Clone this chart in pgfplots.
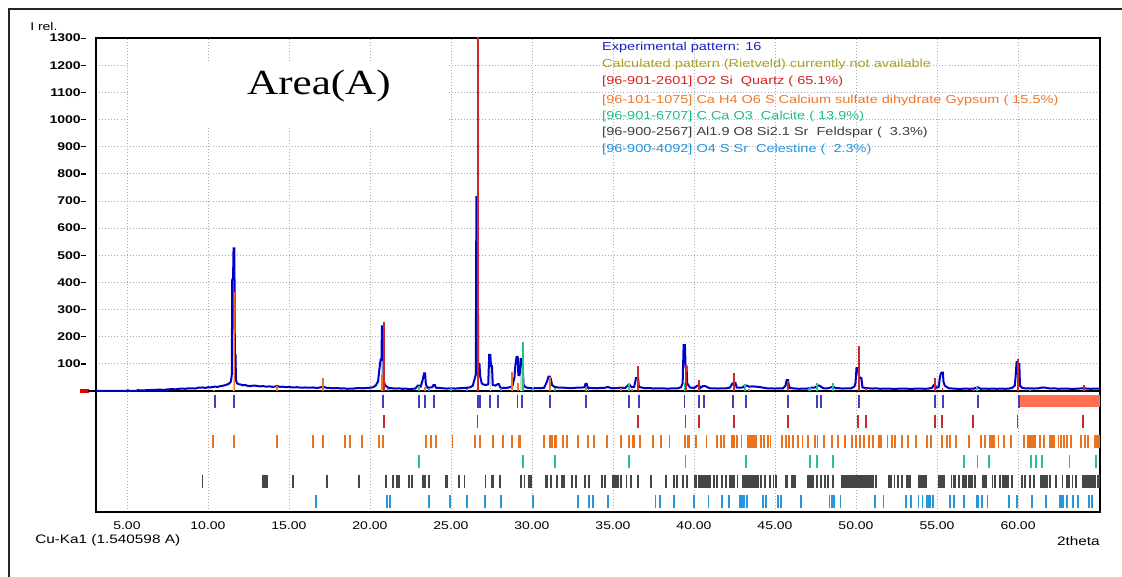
\documentclass[border=0pt]{standalone}
\usepackage{fontspec}
\setmainfont[FakeStretch=1.25]{Liberation Sans}
\newfontfamily\areafont[FakeStretch=1.22]{Liberation Serif}
\usepackage{pgfplots}
\pgfplotsset{compat=1.18}
\definecolor{expblue}{RGB}{0,0,200}
\definecolor{rowblue}{RGB}{64,64,192}
\definecolor{qred}{RGB}{205,40,40}
\definecolor{gorange}{RGB}{235,115,30}
\definecolor{cgreen}{RGB}{40,195,130}
\definecolor{fgray}{RGB}{70,70,70}
\definecolor{cblue}{RGB}{40,150,220}
\definecolor{salmonbox}{RGB}{255,112,80}
\definecolor{calcolive}{RGB}{168,160,40}
\definecolor{legblue}{RGB}{30,30,200}
\definecolor{legred}{RGB}{220,30,30}
\definecolor{legorange}{RGB}{240,120,40}
\definecolor{leggreen}{RGB}{30,190,130}
\definecolor{leggray}{RGB}{60,60,60}
\definecolor{legcyan}{RGB}{30,150,225}
\definecolor{gridgray}{RGB}{170,170,170}
\begin{document}
\begin{tikzpicture}
\useasboundingbox (-72pt,-48.75pt) rectangle (769.5pt,384pt);
\begin{axis}[
  at={(0,0)}, anchor=south west,
  scale only axis, width=753pt, height=355.5pt,
  xmin=3.09, xmax=65.06, ymin=-445.6, ymax=1300,
  axis line style={line width=1.1pt, black},
  xtick={5,10,...,60}, ytick={100,200,...,1300},
  major tick length=0pt,
  xmajorgrids, ymajorgrids,
  grid style={gridgray, line width=0.6pt, dash pattern=on 0.6pt off 1.7pt},
  /pgf/number format/assume math mode=true,
  xticklabel={\pgfmathprintnumber[fixed,fixed zerofill,precision=2]{\tick}},
  yticklabel={\textbf{\pgfmathprintnumber[fixed,precision=0,1000 sep={}]{\tick}}\rule[2.3pt]{3.75pt}{0.9pt}},
  xticklabel style={font=\fontsize{8.4}{10}\selectfont, anchor=north, inner sep=0pt, yshift=-7.2pt},
  yticklabel style={font=\fontsize{8.4}{10}\selectfont, anchor=east, inner sep=0pt, xshift=-7.5pt},
]
% white box behind the area title
\fill[white] (axis cs:5.1,976) rectangle (axis cs:24.9,1208);
\node[font=\areafont\fontsize{26.5}{30}\selectfont] at (axis cs:16.85,1123) {Area(A)};
% zero line
\draw[black, line width=1.4pt] (axis cs:3.09,0) -- (axis cs:65.06,0);
% light gray phase sticks
\addplot[ycomb, no markers, gray!35, line width=1.4pt] coordinates {(11.60,470) (20.74,190) (27.44,135) (29.30,110)};
% experimental pattern
\addplot[expblue, line width=1.5pt, no markers, line join=miter, miter limit=2] coordinates {
(3.10,0) (4.00,0) (5.00,0) (5.06,3) (5.12,0) (5.60,0) (5.66,3) (6.00,2) (6.20,3) (6.60,4) (7.00,5)
(7.30,4) (7.50,6) (7.80,7) (8.00,6) (8.20,8) (8.40,9) (8.60,8) (8.80,10) (9.00,10) (9.20,9) (9.40,12)
(9.70,13) (9.85,11) (10.00,14) (10.15,13) (10.30,15) (10.45,16) (10.60,15) (10.75,18) (10.90,19) (11.10,22)
(11.30,27) (11.42,35) (11.47,60) (11.50,411) (11.55,411) (11.58,525) (11.63,525) (11.66,133) (11.70,133) (11.73,40)
(11.80,28) (11.90,25) (12.00,24) (12.15,21) (12.30,22) (12.45,19) (12.60,18) (12.80,20) (13.00,19) (13.20,17)
(13.40,18) (13.60,16) (13.80,17) (14.00,15) (14.28,18) (14.45,15) (14.60,16) (14.80,14) (15.00,15) (15.25,13)
(15.50,14) (15.75,12) (16.00,13) (16.25,12) (16.50,13) (16.75,11) (17.00,14) (17.12,16) (17.30,12) (17.55,11)
(17.80,10) (18.00,11) (18.20,9) (18.40,10) (18.60,8) (18.80,9) (19.00,9) (19.25,11) (19.50,10) (19.75,11)
(20.00,12) (20.20,14) (20.35,20) (20.50,35) (20.58,80) (20.66,115) (20.71,115) (20.74,238) (20.81,238) (20.85,40)
(20.92,22) (21.00,18) (21.10,13) (21.20,11) (21.40,10) (21.60,9) (21.80,10) (22.00,8) (22.20,9) (22.40,7)
(22.60,8) (22.80,9) (22.95,20) (23.05,20) (23.12,14) (23.25,40) (23.34,65) (23.40,65) (23.45,25) (23.55,12)
(23.70,13) (23.85,14) (23.92,22) (24.00,22) (24.08,12) (24.30,11) (24.50,10) (24.75,9) (25.00,10) (25.25,9)
(25.50,10) (25.75,11) (26.00,12) (26.20,14) (26.35,20) (26.45,43) (26.53,60) (26.57,714) (26.64,714) (26.68,100)
(26.76,100) (26.80,55) (26.90,28) (27.00,24) (27.15,22) (27.30,25) (27.36,133) (27.43,133) (27.47,92) (27.53,92)
(27.58,22) (27.75,20) (27.88,25) (27.96,25) (28.05,12) (28.25,11) (28.50,12) (28.70,15) (28.80,20) (28.92,50)
(28.97,92) (29.05,126) (29.12,126) (29.16,57) (29.24,60) (29.30,117) (29.36,117) (29.42,100) (29.48,22) (29.60,14)
(29.70,12) (29.85,11) (30.00,10) (30.20,11) (30.50,10) (30.75,12) (30.92,34) (31.02,53) (31.10,53) (31.16,45)
(31.24,22) (31.40,15) (31.60,13) (31.80,12) (32.00,12) (32.25,11) (32.50,11) (32.75,12) (33.00,12) (33.25,14)
(33.30,26) (33.38,26) (33.45,12) (33.70,11) (34.00,10) (34.25,11) (34.50,12) (34.70,15) (34.85,11) (35.00,10)
(35.25,11) (35.50,12) (35.75,11) (35.95,22) (36.03,22) (36.15,14) (36.30,14) (36.42,47) (36.55,47) (36.60,15)
(36.75,13) (37.00,10) (37.25,11) (37.50,9) (37.75,10) (38.00,10) (38.25,9) (38.50,9) (38.75,10) (39.00,10)
(39.20,14) (39.30,28) (39.36,169) (39.44,169) (39.48,90) (39.54,90) (39.58,28) (39.75,13) (39.90,12) (40.00,11)
(40.22,20) (40.32,20) (40.40,12) (40.55,18) (40.70,18) (40.85,13) (41.00,10) (41.25,10) (41.50,9) (41.75,10)
(42.00,10) (42.20,12) (42.30,20) (42.38,28) (42.50,30) (42.56,30) (42.64,12) (42.80,12) (43.00,13) (43.15,20)
(43.25,20) (43.40,16) (43.60,17) (43.80,16) (44.00,15) (44.10,14) (44.30,12) (44.50,10) (44.75,10) (45.00,9)
(45.25,10) (45.50,10) (45.65,20) (45.72,40) (45.80,40) (45.88,12) (46.10,10) (46.30,9) (46.50,8) (46.75,9)
(47.00,9) (47.20,12) (47.40,12) (47.50,14) (47.60,20) (47.75,20) (47.85,15) (48.00,10) (48.25,10) (48.50,14)
(48.60,15) (48.75,11) (49.00,10) (49.20,9) (49.45,10) (49.70,10) (49.90,16) (49.97,30) (50.03,84) (50.12,84)
(50.17,60) (50.25,47) (50.33,47) (50.40,13) (50.60,11) (50.80,10) (51.00,9) (51.25,10) (51.50,8) (51.75,9)
(52.00,9) (52.25,8) (52.50,8) (52.75,9) (53.00,9) (53.25,8) (53.50,8) (53.75,9) (54.00,9) (54.25,8)
(54.50,9) (54.70,12) (54.78,20) (54.86,25) (54.95,12) (55.10,14) (55.18,50) (55.24,65) (55.30,68) (55.36,68)
(55.40,34) (55.48,20) (55.58,15) (55.75,10) (56.00,9) (56.25,8) (56.50,8) (56.75,9) (57.00,8) (57.25,9)
(57.48,13) (57.56,13) (57.70,8) (57.95,9) (58.20,8) (58.45,9) (58.70,8) (58.95,9) (59.20,8) (59.45,9)
(59.65,12) (59.80,20) (59.86,60) (59.91,106) (59.98,106) (60.02,100) (60.08,100) (60.12,20) (60.25,12) (60.40,10)
(60.70,10) (61.00,9) (61.25,10) (61.50,13) (61.70,12) (62.00,9) (62.25,10) (62.50,8) (62.75,9) (63.00,9)
(63.25,8) (63.50,8) (63.75,9) (64.00,10) (64.25,9) (64.50,8) (64.75,9) (65.00,9) (65.06,9)
};
% phase intensity sticks
\addplot[ycomb, no markers, gorange, line width=1.4pt] coordinates {(10.35,5) (11.64,366) (14.28,20) (17.12,48) (20.72,60) (23.42,15) (28.76,70) (29.13,30) (31.12,50) (33.35,15) (35.50,12) (36.20,8) (43.40,8)};
\addplot[ycomb, no markers, cgreen, line width=1.4pt] coordinates {(23.04,20) (29.44,182) (31.44,10) (35.99,30) (39.45,30) (43.17,25) (47.17,15) (47.57,28) (48.58,30) (57.48,15) (60.75,8)};
\addplot[ycomb, no markers, cblue, line width=1.2pt] coordinates {(21.10,6) (23.64,8) (25.00,10) (26.00,8) (28.10,12) (30.06,14) (33.50,6) (47.10,10)};
\addplot[ycomb, no markers, qred, line width=1.4pt] coordinates {(20.88,255) (26.65,1400) (36.56,92) (39.49,95) (40.30,40) (42.46,65) (45.80,38) (50.16,166) (50.64,10) (54.89,47) (55.34,12) (57.26,6) (59.98,117) (64.05,22)};
% row 1: experimental peak positions
\fill[salmonbox] (axis cs:60.12,-15) rectangle (axis cs:65.06,-58);
\addplot[only marks, mark=|, mark size=4.75pt, mark options={line width=1.3pt}, color=rowblue] table[row sep=\\, x index=0, y expr=-38] {
x\\ 10.43\\ 11.62\\ 20.80\\ 23.02\\ 23.40\\ 23.97\\ 26.65\\ 26.79\\ 27.41\\ 27.92\\ 29.11\\ 29.38\\ 31.10\\ 33.33\\ 35.99\\ 36.60\\ 39.42\\ 40.29\\ 40.64\\ 42.43\\ 43.19\\ 45.78\\ 47.59\\ 47.84\\ 50.17\\ 54.88\\ 55.39\\ 57.53\\ 60.04\\
};
% row 2: quartz
\addplot[only marks, mark=|, mark size=4.75pt, mark options={line width=1.3pt}, color=qred] table[row sep=\\, x index=0, y expr=-111.7] {
x\\ 20.86\\ 26.64\\ 36.54\\ 39.47\\ 40.29\\ 42.45\\ 45.79\\ 50.14\\ 50.62\\ 54.87\\ 55.33\\ 57.24\\ 59.96\\ 64.03\\
};
% row 3: gypsum
\addplot[only marks, mark=|, mark size=4.75pt, mark options={line width=1.3pt}, color=gorange] table[row sep=\\, x index=0, y expr=-185.4] {
x\\ 10.33\\ 11.62\\ 14.28\\ 16.50\\ 17.12\\ 18.48\\ 18.77\\ 19.50\\ 20.56\\ 20.80\\ 23.48\\ 23.75\\ 24.07\\ 25.10\\ 26.48\\ 26.81\\ 27.59\\ 28.19\\ 28.78\\ 29.16\\ 29.26\\ 30.76\\ 31.13\\ 31.22\\ 31.40\\ 31.48\\ 31.93\\ 32.14\\ 32.84\\ 33.44\\ 33.85\\ 34.65\\ 35.51\\ 36.01\\ 36.21\\ 36.28\\ 36.67\\ 37.45\\ 37.96\\ 38.48\\ 39.44\\ 39.65\\ 39.72\\ 40.12\\ 40.78\\ 41.40\\ 41.65\\ 41.83\\ 42.33\\ 42.49\\ 42.67\\ 42.94\\ 43.35\\ 43.45\\ 43.55\\ 43.65\\ 43.75\\ 43.81\\ 44.15\\ 44.32\\ 44.55\\ 44.73\\ 45.43\\ 45.68\\ 45.88\\ 46.13\\ 46.44\\ 46.69\\ 47.02\\ 47.49\\ 47.63\\ 48.02\\ 48.54\\ 48.89\\ 49.34\\ 49.73\\ 49.98\\ 50.25\\ 50.51\\ 50.80\\ 51.07\\ 51.42\\ 51.48\\ 51.54\\ 51.95\\ 52.20\\ 52.41\\ 52.86\\ 53.19\\ 53.70\\ 54.40\\ 54.63\\ 55.31\\ 55.60\\ 55.80\\ 56.15\\ 56.97\\ 57.70\\ 57.96\\ 58.27\\ 58.36\\ 58.45\\ 58.54\\ 58.80\\ 59.13\\ 59.58\\ 60.39\\ 60.62\\ 60.72\\ 60.82\\ 60.92\\ 61.05\\ 61.36\\ 61.60\\ 61.96\\ 62.05\\ 62.15\\ 62.24\\ 62.49\\ 62.65\\ 62.82\\ 63.04\\ 63.25\\ 63.89\\ 64.14\\ 64.34\\ 64.75\\ 64.85\\ 64.95\\ 65.01\\
};
% row 4: calcite
\addplot[only marks, mark=|, mark size=4.75pt, mark options={line width=1.3pt}, color=cgreen] table[row sep=\\, x index=0, y expr=-259] {
x\\ 23.02\\ 29.44\\ 31.44\\ 35.99\\ 39.47\\ 43.19\\ 47.17\\ 47.57\\ 48.58\\ 56.65\\ 57.50\\ 58.20\\ 60.78\\ 61.13\\ 61.46\\ 63.17\\ 64.82\\
};
% row 5: feldspar
\addplot[only marks, mark=|, mark size=4.75pt, mark options={line width=1.3pt}, color=fgray] table[row sep=\\, x index=0, y expr=-332.6] {
x\\ 9.67\\ 13.42\\ 13.50\\ 13.58\\ 13.68\\ 15.23\\ 17.35\\ 19.32\\ 20.97\\ 21.40\\ 21.69\\ 21.77\\ 22.43\\ 22.59\\ 23.29\\ 23.40\\ 23.64\\ 24.69\\ 24.77\\ 25.50\\ 25.83\\ 27.13\\ 27.51\\ 27.61\\ 28.02\\ 29.30\\ 29.54\\ 29.81\\ 29.94\\ 30.84\\ 30.94\\ 31.17\\ 31.54\\ 31.87\\ 31.97\\ 32.45\\ 32.72\\ 33.27\\ 33.52\\ 34.30\\ 34.51\\ 34.98\\ 35.07\\ 35.16\\ 35.25\\ 35.33\\ 35.49\\ 35.84\\ 36.09\\ 36.56\\ 37.35\\ 38.25\\ 38.77\\ 38.95\\ 39.34\\ 39.55\\ 40.06\\ 40.16\\ 40.27\\ 40.37\\ 40.51\\ 40.61\\ 40.71\\ 40.81\\ 40.91\\ 40.99\\ 41.23\\ 41.44\\ 41.75\\ 41.98\\ 42.22\\ 42.31\\ 42.40\\ 42.49\\ 42.69\\ 43.00\\ 43.10\\ 43.20\\ 43.30\\ 43.40\\ 43.50\\ 43.60\\ 43.70\\ 43.80\\ 43.90\\ 43.97\\ 44.14\\ 44.38\\ 44.69\\ 44.90\\ 45.06\\ 45.68\\ 45.76\\ 46.05\\ 46.14\\ 46.23\\ 47.05\\ 47.15\\ 47.25\\ 47.36\\ 47.57\\ 47.84\\ 48.09\\ 48.29\\ 48.56\\ 49.14\\ 49.24\\ 49.34\\ 49.43\\ 49.47\\ 49.57\\ 49.67\\ 49.77\\ 49.87\\ 49.97\\ 50.07\\ 50.17\\ 50.27\\ 50.37\\ 50.41\\ 50.56\\ 50.66\\ 50.76\\ 50.86\\ 50.96\\ 51.03\\ 51.22\\ 52.04\\ 52.18\\ 52.37\\ 52.61\\ 52.82\\ 53.13\\ 53.25\\ 53.37\\ 53.85\\ 53.95\\ 54.05\\ 54.15\\ 54.25\\ 54.34\\ 55.14\\ 55.24\\ 55.34\\ 55.45\\ 55.90\\ 56.01\\ 56.11\\ 56.36\\ 56.60\\ 56.69\\ 56.77\\ 56.99\\ 57.07\\ 57.14\\ 57.35\\ 57.80\\ 57.91\\ 58.02\\ 58.43\\ 58.59\\ 58.89\\ 59.05\\ 59.16\\ 59.27\\ 59.38\\ 59.63\\ 60.26\\ 60.45\\ 60.74\\ 60.97\\ 61.40\\ 61.50\\ 61.60\\ 61.70\\ 61.81\\ 61.98\\ 62.35\\ 62.74\\ 63.01\\ 63.09\\ 63.17\\ 63.37\\ 63.58\\ 63.99\\ 64.09\\ 64.19\\ 64.29\\ 64.39\\ 64.49\\ 64.59\\ 64.69\\ 64.75\\ 64.90\\ 65.00\\
};
% row 6: celestine
\addplot[only marks, mark=|, mark size=4.75pt, mark options={line width=1.3pt}, color=cblue] table[row sep=\\, x index=0, y expr=-406.3] {
x\\ 16.67\\ 21.07\\ 21.22\\ 23.64\\ 24.94\\ 25.97\\ 27.08\\ 28.09\\ 30.06\\ 32.84\\ 33.52\\ 33.77\\ 34.69\\ 37.63\\ 37.90\\ 38.77\\ 40.02\\ 40.89\\ 41.75\\ 42.16\\ 42.86\\ 42.97\\ 43.09\\ 43.29\\ 44.24\\ 44.44\\ 45.17\\ 45.37\\ 46.62\\ 48.36\\ 48.50\\ 48.64\\ 49.05\\ 51.17\\ 51.69\\ 53.07\\ 53.41\\ 53.85\\ 54.11\\ 54.40\\ 54.50\\ 54.60\\ 54.73\\ 55.80\\ 56.07\\ 56.67\\ 57.45\\ 57.55\\ 57.78\\ 58.11\\ 59.44\\ 59.92\\ 60.88\\ 61.73\\ 62.59\\ 62.66\\ 62.73\\ 62.80\\ 63.02\\ 63.40\\ 63.68\\ 64.40\\ 64.57\\
};
% legend texts
\begin{scope}[every node/.style={anchor=west, inner sep=0pt, font=\fontsize{8.7}{10}\selectfont}]
\node[text=legblue] at (axis cs:34.32,1265.8) {Experimental pattern: 16};
\node[text=calcolive] at (axis cs:34.32,1201.7) {Calculated pattern (Rietveld) currently not available};
\node[text=legred] at (axis cs:34.32,1138) {[96-901-2601] O2 Si\ \ Quartz (\ 65.1\%)};
\node[text=legorange] at (axis cs:34.32,1071.6) {[96-101-1075] Ca H4 O6 S Calcium sulfate dihydrate Gypsum (\ 15.5\%)};
\node[text=leggreen] at (axis cs:34.32,1010) {[96-901-6707] C Ca O3\ \ Calcite (\ 13.9\%)};
\node[text=leggray] at (axis cs:34.32,951) {[96-900-2567] Al1.9 O8 Si2.1 Sr\ \ Feldspar (\ \ 3.3\%)};
\node[text=legcyan] at (axis cs:34.32,890) {[96-900-4092] O4 S Sr\ \ Celestine (\ \ 2.3\%)};
\end{scope}
\end{axis}
% outside decorations
\draw[line width=1.1pt, black!85] (-65.25pt,-48.75pt) -- (-65.25pt,377.25pt) -- (769.5pt,377.25pt);
\fill[red!90!black] (-12pt,89.2pt) rectangle (-5.5pt,92.3pt);
\draw[black, line width=1.2pt] (-6pt,90.75pt) -- (0pt,90.75pt);
\node[anchor=west, inner sep=0pt, font=\fontsize{8.4}{10}\selectfont] at (-49.5pt,363.75pt) {I rel.};
\node[anchor=west, inner sep=0pt, font=\fontsize{9.2}{10}\selectfont] at (-45.75pt,-21.5pt) {Cu-Ka1 (1.540598 A)};
\node[anchor=east, inner sep=0pt, font=\fontsize{9.2}{10}\selectfont] at (753pt,-21.5pt) {2theta};
\end{tikzpicture}
\end{document}
